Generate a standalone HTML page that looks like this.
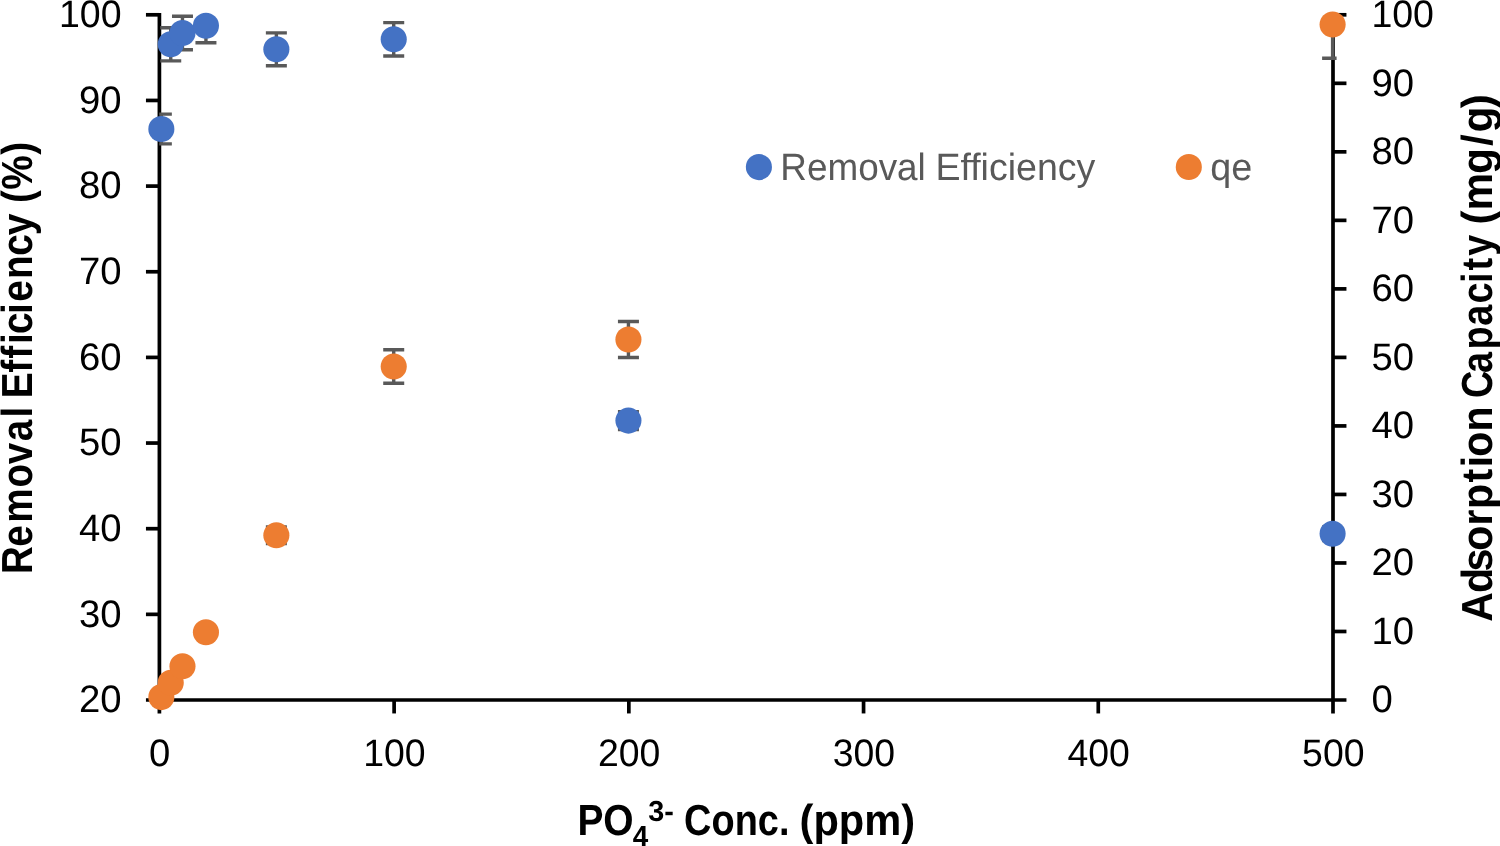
<!DOCTYPE html>
<html lang="en"><head><meta charset="utf-8"><title>Removal Efficiency and Adsorption Capacity vs PO4 Conc.</title>
<style>html,body{margin:0;padding:0;background:#fff}body{width:1500px;height:846px;overflow:hidden}svg{display:block;will-change:transform}text{font-family:"Liberation Sans",Arial,sans-serif;fill:#000;text-rendering:geometricPrecision;font-variant-ligatures:none}.b{font-weight:bold}text.lg{fill:#595959}</style></head><body>
<svg width="1500" height="846" viewBox="0 0 1500 846">
<rect width="1500" height="846" fill="#fff"/>
<defs><clipPath id="pc"><rect x="159.2" y="12.9" width="1177.4" height="689"/></clipPath></defs>
<g stroke="#000" stroke-width="3.7" fill="none">
<path d="M159.40 12.95 V713.45"/>
<path d="M1333.00 12.95 V713.45"/>
<path d="M145.95 700.00 H1346.45"/>
<path d="M145.95 614.35 H159.40"/>
<path d="M145.95 528.70 H159.40"/>
<path d="M145.95 443.05 H159.40"/>
<path d="M145.95 357.40 H159.40"/>
<path d="M145.95 271.75 H159.40"/>
<path d="M145.95 186.10 H159.40"/>
<path d="M145.95 100.45 H159.40"/>
<path d="M145.95 14.80 H159.40"/>
<path d="M1333.00 631.48 H1346.45"/>
<path d="M1333.00 562.96 H1346.45"/>
<path d="M1333.00 494.44 H1346.45"/>
<path d="M1333.00 425.92 H1346.45"/>
<path d="M1333.00 357.40 H1346.45"/>
<path d="M1333.00 288.88 H1346.45"/>
<path d="M1333.00 220.36 H1346.45"/>
<path d="M1333.00 151.84 H1346.45"/>
<path d="M1333.00 83.32 H1346.45"/>
<path d="M1333.00 14.80 H1346.45"/>
<path d="M394.12 700.00 V713.45"/>
<path d="M628.84 700.00 V713.45"/>
<path d="M863.56 700.00 V713.45"/>
<path d="M1098.28 700.00 V713.45"/>
</g>
<g font-size="38.3">
<text x="121.6" y="712.20" text-anchor="end">20</text>
<text x="121.6" y="626.55" text-anchor="end">30</text>
<text x="121.6" y="540.90" text-anchor="end">40</text>
<text x="121.6" y="455.25" text-anchor="end">50</text>
<text x="121.6" y="369.60" text-anchor="end">60</text>
<text x="121.6" y="283.95" text-anchor="end">70</text>
<text x="121.6" y="198.30" text-anchor="end">80</text>
<text x="121.6" y="112.65" text-anchor="end">90</text>
<text x="121.6" y="27.00" text-anchor="end" textLength="62.6" lengthAdjust="spacingAndGlyphs">100</text>
<text x="1371.4" y="712.20">0</text>
<text x="1371.4" y="643.68">10</text>
<text x="1371.4" y="575.16">20</text>
<text x="1371.4" y="506.64">30</text>
<text x="1371.4" y="438.12">40</text>
<text x="1371.4" y="369.60">50</text>
<text x="1371.4" y="301.08">60</text>
<text x="1371.4" y="232.56">70</text>
<text x="1371.4" y="164.04">80</text>
<text x="1371.4" y="95.52">90</text>
<text x="1371.4" y="27.00" textLength="62.6" lengthAdjust="spacingAndGlyphs">100</text>
<text x="159.70" y="765.95" text-anchor="middle">0</text>
<text x="394.42" y="765.95" text-anchor="middle" textLength="62.4" lengthAdjust="spacingAndGlyphs">100</text>
<text x="629.14" y="765.95" text-anchor="middle" textLength="62.4" lengthAdjust="spacingAndGlyphs">200</text>
<text x="863.86" y="765.95" text-anchor="middle" textLength="62.4" lengthAdjust="spacingAndGlyphs">300</text>
<text x="1098.58" y="765.95" text-anchor="middle" textLength="62.4" lengthAdjust="spacingAndGlyphs">400</text>
<text x="1333.30" y="765.95" text-anchor="middle" textLength="62.4" lengthAdjust="spacingAndGlyphs">500</text>
</g>
<g clip-path="url(#pc)" stroke="#595959" stroke-width="3.4" fill="none">
<path d="M161.35 114.15 V143.85 M150.85 114.15 H171.85 M150.85 143.85 H171.85"/>
<path d="M170.74 27.76 V60.84 M160.24 27.76 H181.24 M160.24 60.84 H181.24"/>
<path d="M182.47 16.23 V49.77 M171.97 16.23 H192.97 M171.97 49.77 H192.97"/>
<path d="M205.94 8.89 V42.71 M195.44 8.89 H216.44 M195.44 42.71 H216.44"/>
<path d="M276.36 32.86 V65.74 M265.86 32.86 H286.86 M265.86 65.74 H286.86"/>
<path d="M393.72 22.66 V55.94 M383.22 22.66 H404.22 M383.22 55.94 H404.22"/>
<path d="M628.44 411.59 V429.61 M617.94 411.59 H638.94 M617.94 429.61 H638.94"/>
<path d="M1332.60 526.95 V540.45 M1322.10 526.95 H1343.10 M1322.10 540.45 H1343.10"/>
</g>
<g fill="#4472C4">
<circle cx="161.35" cy="129.00" r="13.05"/>
<circle cx="170.74" cy="44.30" r="13.05"/>
<circle cx="182.47" cy="33.00" r="13.05"/>
<circle cx="205.94" cy="25.80" r="13.05"/>
<circle cx="276.36" cy="49.30" r="13.05"/>
<circle cx="393.72" cy="39.30" r="13.05"/>
<circle cx="628.44" cy="420.60" r="13.05"/>
<circle cx="1332.60" cy="533.70" r="13.05"/>
</g>
<g clip-path="url(#pc)" stroke="#595959" stroke-width="3.4" fill="none">
<path d="M161.35 696.96 V697.25 M150.85 696.96 H171.85 M150.85 697.25 H171.85"/>
<path d="M170.74 681.94 V683.66 M160.24 681.94 H181.24 M160.24 683.66 H181.24"/>
<path d="M182.47 664.56 V667.94 M171.97 664.56 H192.97 M171.97 667.94 H192.97"/>
<path d="M205.94 628.86 V635.64 M195.44 628.86 H216.44 M195.44 635.64 H216.44"/>
<path d="M276.36 527.06 V543.53 M265.86 527.06 H286.86 M265.86 543.53 H286.86"/>
<path d="M393.72 349.82 V383.18 M383.22 349.82 H404.22 M383.22 383.18 H404.22"/>
<path d="M628.44 321.48 V357.52 M617.94 321.48 H638.94 M617.94 357.52 H638.94"/>
<path d="M1332.60 -9.27 V58.27 M1322.10 -9.27 H1343.10 M1322.10 58.27 H1343.10"/>
</g>
<g fill="#ED7D31">
<circle cx="161.35" cy="697.10" r="13.05"/>
<circle cx="170.74" cy="682.80" r="13.05"/>
<circle cx="182.47" cy="666.25" r="13.05"/>
<circle cx="205.94" cy="632.25" r="13.05"/>
<circle cx="276.36" cy="535.30" r="13.05"/>
<circle cx="393.72" cy="366.50" r="13.05"/>
<circle cx="628.44" cy="339.50" r="13.05"/>
<circle cx="1332.60" cy="24.50" r="13.05"/>
</g>
<circle cx="758.9" cy="167.1" r="13.05" fill="#4472C4"/>
<circle cx="1188.8" cy="167.0" r="13.05" fill="#ED7D31"/>
<text class="lg" font-size="38.0" x="780.35" y="179.6" textLength="145.43" lengthAdjust="spacingAndGlyphs">Removal</text>
<text class="lg" font-size="38.0" x="935.39" y="179.6" textLength="160.03" lengthAdjust="spacingAndGlyphs">Efficiency</text>
<text class="lg" font-size="38.0" x="1210.16" y="179.6" textLength="41.97" lengthAdjust="spacingAndGlyphs">qe</text>
<text class="b" font-size="43.5" x="577.40" y="834.6" textLength="56.28" lengthAdjust="spacingAndGlyphs">PO</text>
<text class="b" font-size="29.0" x="632.67" y="846.2" textLength="15.50" lengthAdjust="spacingAndGlyphs">4</text>
<text class="b" font-size="29.0" x="648.13" y="821.05" textLength="25.63" lengthAdjust="spacingAndGlyphs">3-</text>
<text class="b" font-size="43.5" x="684.12" y="834.6" textLength="105.31" lengthAdjust="spacingAndGlyphs">Conc.</text>
<text class="b" font-size="43.5" x="799.58" y="834.6" textLength="115.60" lengthAdjust="spacingAndGlyphs">(ppm)</text>
<text class="b" font-size="43.5" transform="translate(32.4 570.3) rotate(-90) scale(0.8865 1)" x="-4.31 26.45 53.76 93.38 119.51 145.47 172.38">Removal</text>
<text class="b" font-size="43.5" transform="translate(32.4 392.8) rotate(-90) scale(0.8924 1)" x="-6.03 22.43 38.18 54.55 65.88 88.39 102.12 127.54 153.68 176.51">Efficiency</text>
<text class="b" font-size="43.5" transform="translate(32.4 201.0) rotate(-90) scale(0.8904 1)" x="-2.28 12.53 52.09">(%)</text>
<text class="b" font-size="43.5" transform="translate(1492.35 620.1) rotate(-90) scale(0.9443 1)" x="-1.76 28.63 51.49 73.56 100.18 117.75 145.72 161.87 172.94 199.63">Adsorption</text>
<text class="b" font-size="43.5" transform="translate(1492.35 395.3) rotate(-90) scale(0.8699 1)" x="-3.14 25.72 52.63 79.87 105.49 129.06 143.47 160.41">Capacity</text>
<text class="b" font-size="43.5" transform="translate(1492.35 221.8) rotate(-90) scale(0.9744 1)" x="-2.74 11.70 48.96 77.90 91.61 116.59">(mg/g)</text>
</svg></body></html>
